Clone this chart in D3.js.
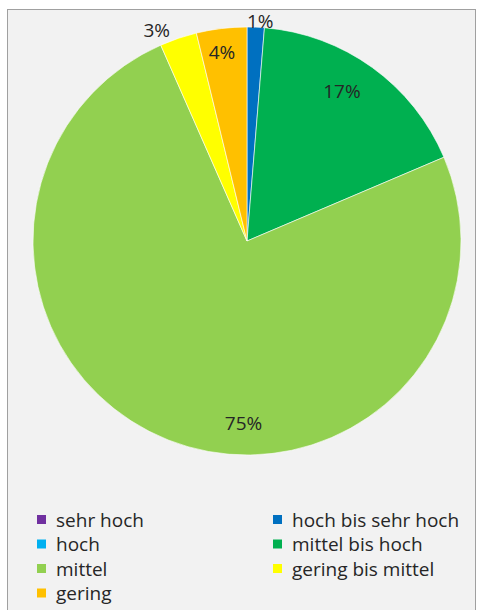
<!DOCTYPE html>
<html>
<head>
<meta charset="utf-8">
<script src="https://d3js.org/d3.v7.min.js"></script>
<style>
  body { margin: 0; background: #fff; }
  svg { display: block; }
</style>
</head>
<body>
<div id="chart"></div>
<script>
// categories in legend order (row-major, 2 columns)
const categories = ["sehr hoch", "hoch bis sehr hoch", "hoch", "mittel bis hoch", "mittel", "gering bis mittel", "gering"];
const shares = [0, 1.3, 0, 17.3, 74.8, 2.8, 3.8];
const colors = ["#7030A0", "#0070C0", "#00B0F0", "#00B050", "#92D050", "#FFFF00", "#FFC000"];

const width = 480, height = 610;
const cx = 247, cy = 241, radius = 214;

const svg = d3.select("#chart").append("svg")
    .attr("width", width)
    .attr("height", height);

// chart frame
svg.append("rect")
    .attr("x", 7.5).attr("y", 9.5)
    .attr("width", 468).attr("height", 620)
    .attr("fill", "#f2f2f2")
    .attr("stroke", "#a0a0a0")
    .attr("stroke-width", 1);

const data = categories.map((c, i) => ({ name: c, value: shares[i], color: colors[i] }));

const pie = d3.pie().sort(null).value(d => d.value);
const arc = d3.arc().innerRadius(0).outerRadius(radius);

const g = svg.append("g").attr("transform", `translate(${cx},${cy})`);

const arcs = pie(data).filter(d => d.data.value > 0);

g.selectAll("path")
    .data(arcs)
    .enter().append("path")
    .attr("d", arc)
    .attr("fill", d => d.data.color)
    .attr("stroke", "#ffffff")
    .attr("stroke-width", 0.6);

// label placement: angle shift (deg, from slice middle) and radius factor
const labelPlace = {
    "hoch bis sehr hoch": [1.1, 1.03],
    "mittel bis hoch": [-3.5, 0.83],
    "mittel": [-20.5, 0.85],
    "gering bis mittel": [-4.5, 1.07],
    "gering": [-0.7, 0.89]
};

g.selectAll("text.lbl")
    .data(arcs)
    .enter().append("text")
    .attr("class", "lbl")
    .attr("transform", d => {
        const p = labelPlace[d.data.name];
        const a = (d.startAngle + d.endAngle) / 2 + p[0] * Math.PI / 180;
        const r = radius * p[1];
        return `translate(${Math.sin(a) * r},${-Math.cos(a) * r})`;
    })
    .attr("dy", "0.35em")
    .attr("text-anchor", "middle")
    .style("font", "19px 'Open Sans', sans-serif")
    .attr("fill", "#262626")
    .text(d => Math.round(d.data.value) + "%");

// legend
const legend = svg.append("g").style("font", "19px 'Open Sans', sans-serif");
const colX = [37, 273], rowY0 = 520, rowH = 24.5;

const items = legend.selectAll("g")
    .data(data)
    .enter().append("g")
    .attr("transform", (d, i) => `translate(${colX[i % 2]},${rowY0 + Math.floor(i / 2) * rowH})`);

items.append("rect")
    .attr("x", 0).attr("y", -5)
    .attr("width", 9).attr("height", 9)
    .attr("fill", d => d.color);

items.append("text")
    .attr("x", 19)
    .attr("dy", "0.35em")
    .attr("fill", "#262626")
    .text(d => d.name);
</script>
</body>
</html>
